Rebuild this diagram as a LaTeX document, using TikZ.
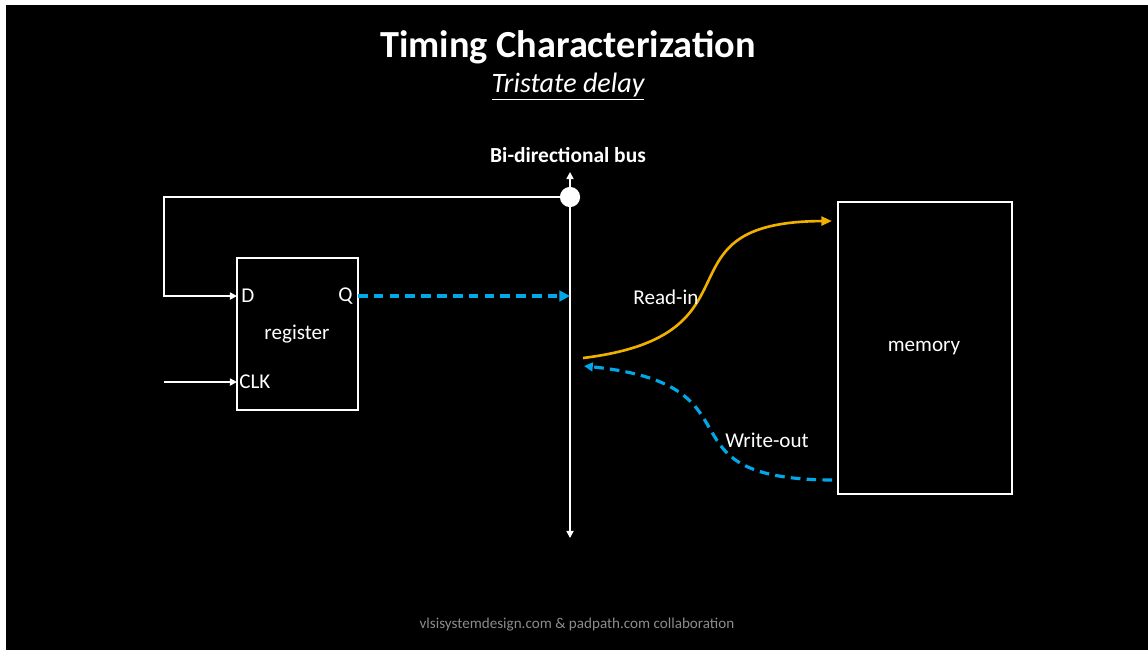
\documentclass[tikz,border=0pt]{standalone}
\usepackage{fontspec}
\setmainfont{Carlito}
\usetikzlibrary{arrows.meta}
\definecolor{busblue}{RGB}{0,168,232}
\definecolor{readorange}{RGB}{240,176,0}
\definecolor{footgray}{RGB}{140,140,140}
\tikzset{
  wire/.style={draw=white, line width=0.9pt},
  wirearrow/.style={wire, -{Triangle[length=4pt,width=4pt]}},
  bluedash/.style={draw=busblue, line width=1.8pt, dash pattern=on 5.5pt off 3.5pt, -{Triangle[length=6pt,width=6pt]}},
  orangeline/.style={draw=readorange, line width=1.5pt, -{Triangle[length=6pt,width=5pt]}},
  blockbox/.style={draw=white, line width=1.1pt, minimum width=#1},
  lbl/.style={text=white, font=\fontsize{12}{14}\selectfont, inner sep=0pt},
}
\begin{document}
\begin{tikzpicture}[x=0.02cm,y=-0.02cm]
\useasboundingbox (0,0) rectangle (1148,650);
\fill[white] (0,0) rectangle (1148,650);
\fill[black] (6,5) rectangle (1148,650);

% titles
\node[text=white, font=\fontsize{21.8}{25}\selectfont\bfseries] (title) at (568,47) {Timing Characterization};
\node[text=white, font=\fontsize{16}{19}\selectfont\itshape] (subtitle) at (568,87) {\underline{Tristate delay}};
\node[text=white, font=\fontsize{12.2}{14}\selectfont\bfseries] (buslabel) at (568,155) {Bi-directional bus};

% bus
\coordinate (bustop) at (570,172);
\coordinate (busbot) at (570,538);
\coordinate (busq) at (570,296);
\node[circle, fill=white, inner sep=0pt, minimum size=11.5pt] (dot) at (570,197) {};
\draw[wirearrow] (dot.center) -- (bustop);
\draw[wirearrow] (dot.center) -- (busbot);

% register
\node[blockbox=121*0.02cm, minimum height=152*0.02cm, inner sep=0pt] (reg) at (297.5,334) {};
\node[lbl] (regtxt) at (297,334) {register};
\node[lbl, anchor=west] (dlab) at (241,296) {D};
\node[lbl, anchor=east] (qlab) at (353,296) {Q};
\node[lbl, anchor=west] (clklab) at (239,382) {CLK};

\coordinate (fbcorner1) at (164,197);
\coordinate (fbcorner2) at (164,296);
\coordinate (clkin) at (164,382);
\coordinate (din) at (237,296);
\coordinate (clkpin) at (237,382);
\coordinate (qout) at (358,296);
\draw[wirearrow] (dot.center) -- (fbcorner1) -- (fbcorner2) -- (din);
\draw[wirearrow] (clkin) -- (clkpin);
\draw[bluedash] (qout) -- (busq);

% memory
\node[blockbox=174*0.02cm, minimum height=292*0.02cm, inner sep=0pt, line width=1.4pt] (mem) at (925,348) {};
\node[lbl] (memtxt) at (924,348) {memory};

% read-in / write-out
\coordinate (rstart) at (583,358);
\coordinate (rend) at (832,221);
\draw[orangeline] (rstart) .. controls (770,335) and (650,222) .. (rend);
\node[lbl] (readlbl) at (666,297) {Read-in};

\coordinate (wstart) at (832,480);
\coordinate (wend) at (584,366);
\draw[bluedash, -{Triangle[length=5pt,width=5pt]}] (wstart) .. controls (650,479) and (770,385) .. (wend);
\node[lbl] (writelbl) at (767,440) {Write-out};

% footer
\node[text=footgray, font=\fontsize{8.6}{10}\selectfont] (footer) at (577,625) {vlsisystemdesign.com \& padpath.com collaboration};
\end{tikzpicture}
\end{document}
